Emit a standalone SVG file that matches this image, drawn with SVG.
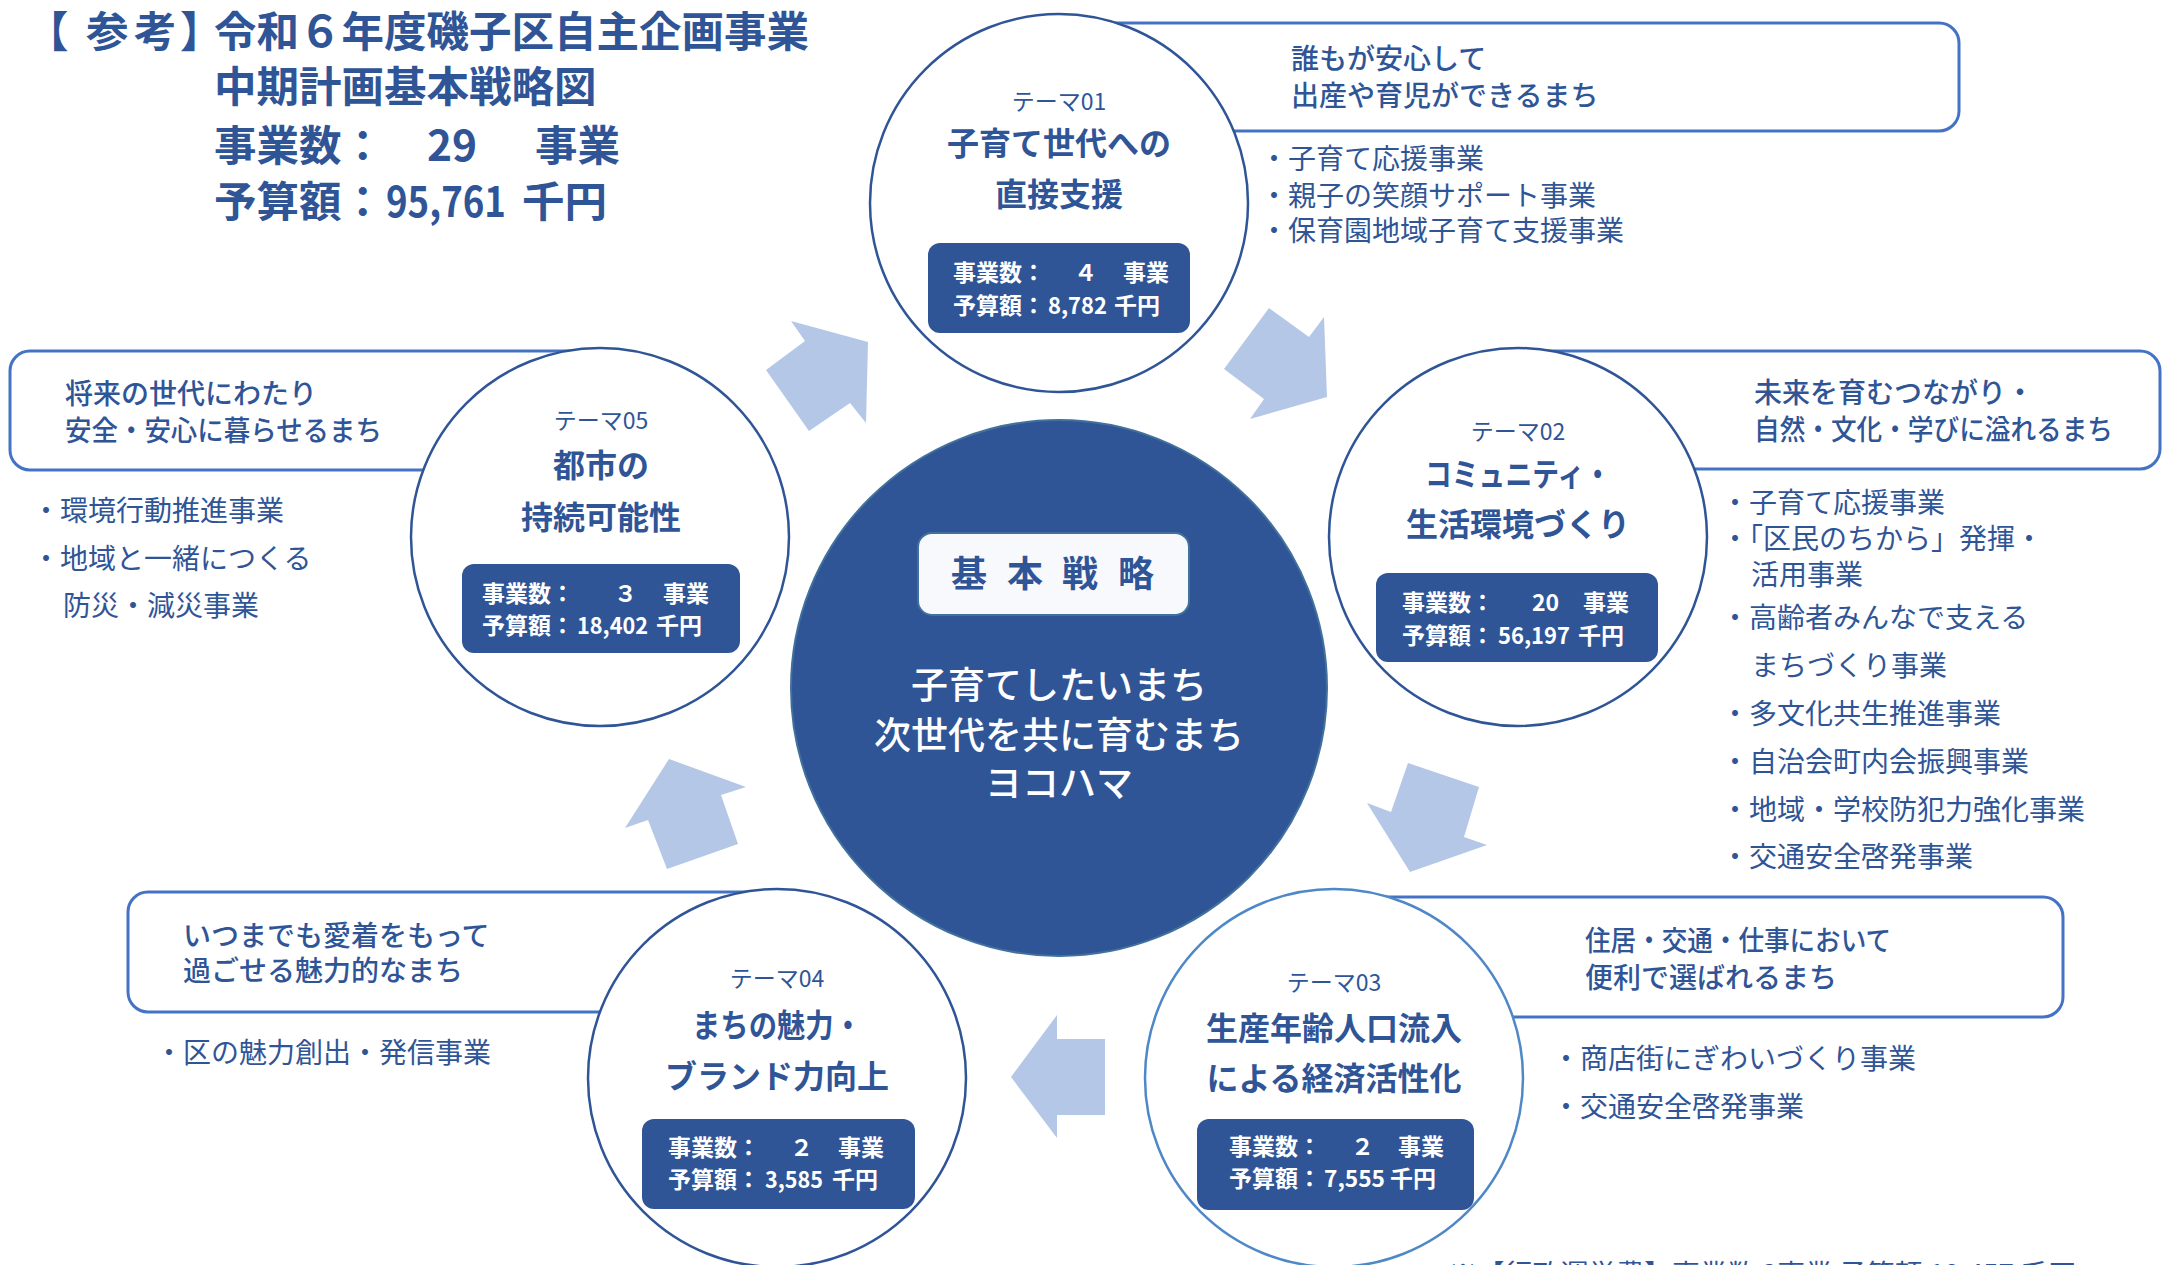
<svg xmlns="http://www.w3.org/2000/svg" width="2163" height="1265" viewBox="0 0 2163 1265">
<style>
text{font-family:'Noto Sans CJK JP','Noto Sans',sans-serif;fill:#2f5597}
.title{font-size:42.5px;font-weight:700}
.slogan{font-size:28px;font-weight:500}
.item{font-size:28px;font-weight:400}
.tlabel{font-size:23px;font-weight:400;text-anchor:middle}
.thead{font-size:32px;font-weight:700;text-anchor:middle}
.stat{font-size:23px;font-weight:700;fill:#ffffff}
.box{fill:#ffffff;stroke:#4472c4;stroke-width:3}
.ring{fill:#ffffff;stroke:#2f5597;stroke-width:2.5}
.ring3{fill:#ffffff;stroke:#4f88c6;stroke-width:2.5}
.statbox{fill:#2f5597}
.arrow{fill:#b4c7e7}
.center{font-size:37px;font-weight:500;fill:#ffffff;text-anchor:middle}
</style>
<rect width="2163" height="1265" fill="#ffffff"/>

<g id="title">
<text class="title" y="47"><tspan x="26 86 134 180">【参考】</tspan><tspan x="214">令和６年度磯子区自主企画事業</tspan></text>
<text class="title" x="214" y="102">中期計画基本戦略図</text>
<text class="title" y="161"><tspan x="214">事業数：</tspan><tspan x="427">29</tspan><tspan x="535">事業</tspan></text>
<text class="title" y="217"><tspan x="214">予算額：</tspan><tspan x="386" textLength="120" lengthAdjust="spacingAndGlyphs">95,761</tspan><tspan x="522">千円</tspan></text>
</g>

<g id="connectors">
<polygon class="arrow" points="791,321 868,342 866,423 850,403 809,431 766,370 805,341"/>
<polygon class="arrow" points="1269,308 1309,337 1324,317 1327,397 1250,419 1264,399 1224,369"/>
<polygon class="arrow" points="1408,763 1479,787 1464,837 1487,845 1410,872 1367,803 1391,812"/>
<polygon class="arrow" points="1057,1015 1057,1039 1105,1039 1105,1115 1057,1115 1057,1138 1011,1077"/>
<polygon class="arrow" points="738,844 667,869 648,820 625,828 669,759 746,787 721,795"/>
</g>

<g id="center">
<circle cx="1059" cy="688" r="268" fill="#2f5597" stroke="#41719c" stroke-width="2"/>
<rect x="918" y="533" width="271" height="82" rx="14" fill="#f7f9fc" stroke="#41719c" stroke-width="2"/>
<text x="969 1025 1080 1136" y="587" style="font-size:36px;font-weight:700;text-anchor:middle">基本戦略</text>
<text class="center" x="1059" y="699">子育てしたいまち</text>
<text class="center" x="1059" y="749">次世代を共に育むまち</text>
<text class="center" x="1059" y="797">ヨコハマ</text>
</g>

<g id="theme01">
<rect class="box" x="1059" y="23" width="900" height="108" rx="20"/>
<text class="slogan" x="1291" y="69">誰もが安心して</text>
<text class="slogan" x="1291" y="106">出産や育児ができるまち</text>
<text class="item" x="1260" y="169">・子育て応援事業</text>
<text class="item" x="1260" y="206">・親子の笑顔サポート事業</text>
<text class="item" x="1260" y="241">・保育園地域子育て支援事業</text>
<circle class="ring" cx="1059" cy="203" r="189"/>
<text class="tlabel" x="1059" y="110">テーマ01</text>
<text class="thead" x="1059" y="155">子育て世代への</text>
<text class="thead" x="1059" y="206">直接支援</text>
<rect class="statbox" x="928" y="243" width="262" height="90" rx="12"/>
<text class="stat" y="281"><tspan x="953">事業数：</tspan><tspan x="1074">４</tspan><tspan x="1123">事業</tspan></text>
<text class="stat" y="314"><tspan x="953">予算額：</tspan><tspan x="1048" textLength="59" lengthAdjust="spacingAndGlyphs">8,782</tspan><tspan x="1114">千円</tspan></text>
</g>

<g id="theme02">
<rect class="box" x="1518" y="351" width="642" height="118" rx="20"/>
<text class="slogan" x="1754" y="403">未来を育むつながり・</text>
<text class="slogan" x="1754" y="440" textLength="359" lengthAdjust="spacingAndGlyphs">自然・文化・学びに溢れるまち</text>
<text class="item" x="1721" y="513">・子育て応援事業</text>
<text class="item" x="1721" y="549">・「区民のちから」発揮・</text>
<text class="item" x="1751" y="585">活用事業</text>
<text class="item" x="1721" y="628">・高齢者みんなで支える</text>
<text class="item" x="1751" y="676">まちづくり事業</text>
<text class="item" x="1721" y="724">・多文化共生推進事業</text>
<text class="item" x="1721" y="772">・自治会町内会振興事業</text>
<text class="item" x="1721" y="820">・地域・学校防犯力強化事業</text>
<text class="item" x="1721" y="867">・交通安全啓発事業</text>
<circle class="ring" cx="1518" cy="537" r="189"/>
<text class="tlabel" x="1518" y="440">テーマ02</text>
<text class="thead" x="1518" y="486" textLength="186" lengthAdjust="spacingAndGlyphs">コミュニティ・</text>
<text class="thead" x="1518" y="536">生活環境づくり</text>
<rect class="statbox" x="1376" y="573" width="282" height="89" rx="12"/>
<text class="stat" y="611"><tspan x="1402">事業数：</tspan><tspan x="1532">20</tspan><tspan x="1583">事業</tspan></text>
<text class="stat" y="644"><tspan x="1402">予算額：</tspan><tspan x="1498" textLength="72" lengthAdjust="spacingAndGlyphs">56,197</tspan><tspan x="1578">千円</tspan></text>
</g>

<g id="theme03">
<rect class="box" x="1335" y="897" width="728" height="120" rx="20"/>
<text class="slogan" x="1585" y="951" textLength="306" lengthAdjust="spacingAndGlyphs">住居・交通・仕事において</text>
<text class="slogan" x="1585" y="988">便利で選ばれるまち</text>
<text class="item" x="1552" y="1069">・商店街にぎわいづくり事業</text>
<text class="item" x="1552" y="1117">・交通安全啓発事業</text>
<circle class="ring3" cx="1334" cy="1078" r="189"/>
<text class="tlabel" x="1334" y="991">テーマ03</text>
<text class="thead" x="1334" y="1040">生産年齢人口流入</text>
<text class="thead" x="1334" y="1090">による経済活性化</text>
<rect class="statbox" x="1197" y="1119" width="277" height="91" rx="12"/>
<text class="stat" y="1155"><tspan x="1229">事業数：</tspan><tspan x="1351">２</tspan><tspan x="1398">事業</tspan></text>
<text class="stat" y="1187"><tspan x="1229">予算額：</tspan><tspan x="1324" textLength="61" lengthAdjust="spacingAndGlyphs">7,555</tspan><tspan x="1390">千円</tspan></text>
<text class="item" x="1449" y="1285" textLength="627" lengthAdjust="spacingAndGlyphs">※【行政運営費】事業数 3事業 予算額 19,457 千円</text>
</g>

<g id="theme04">
<rect class="box" x="128" y="892" width="648" height="120" rx="20"/>
<text class="slogan" x="183" y="946">いつまでも愛着をもって</text>
<text class="slogan" x="183" y="981">過ごせる魅力的なまち</text>
<text class="item" x="155" y="1063">・区の魅力創出・発信事業</text>
<circle class="ring" cx="777" cy="1078" r="189"/>
<text class="tlabel" x="777" y="987">テーマ04</text>
<text class="thead" x="777" y="1037" textLength="170" lengthAdjust="spacingAndGlyphs">まちの魅力・</text>
<text class="thead" x="777" y="1088">ブランド力向上</text>
<rect class="statbox" x="642" y="1119" width="273" height="90" rx="12"/>
<text class="stat" y="1156"><tspan x="668">事業数：</tspan><tspan x="790">２</tspan><tspan x="838">事業</tspan></text>
<text class="stat" y="1188"><tspan x="668">予算額：</tspan><tspan x="765" textLength="58" lengthAdjust="spacingAndGlyphs">3,585</tspan><tspan x="832">千円</tspan></text>
</g>

<g id="theme05">
<rect class="box" x="10" y="351" width="590" height="119" rx="20"/>
<text class="slogan" x="65" y="404">将来の世代にわたり</text>
<text class="slogan" x="65" y="441" textLength="317" lengthAdjust="spacingAndGlyphs">安全・安心に暮らせるまち</text>
<text class="item" x="32" y="521">・環境行動推進事業</text>
<text class="item" x="32" y="569">・地域と一緒につくる</text>
<text class="item" x="63" y="616">防災・減災事業</text>
<circle class="ring" cx="600" cy="537" r="189"/>
<text class="tlabel" x="601" y="429">テーマ05</text>
<text class="thead" x="601" y="477">都市の</text>
<text class="thead" x="601" y="529">持続可能性</text>
<rect class="statbox" x="462" y="564" width="278" height="89" rx="12"/>
<text class="stat" y="602"><tspan x="482">事業数：</tspan><tspan x="614">３</tspan><tspan x="663">事業</tspan></text>
<text class="stat" y="634"><tspan x="482">予算額：</tspan><tspan x="577" textLength="71" lengthAdjust="spacingAndGlyphs">18,402</tspan><tspan x="656">千円</tspan></text>
</g>
</svg>
